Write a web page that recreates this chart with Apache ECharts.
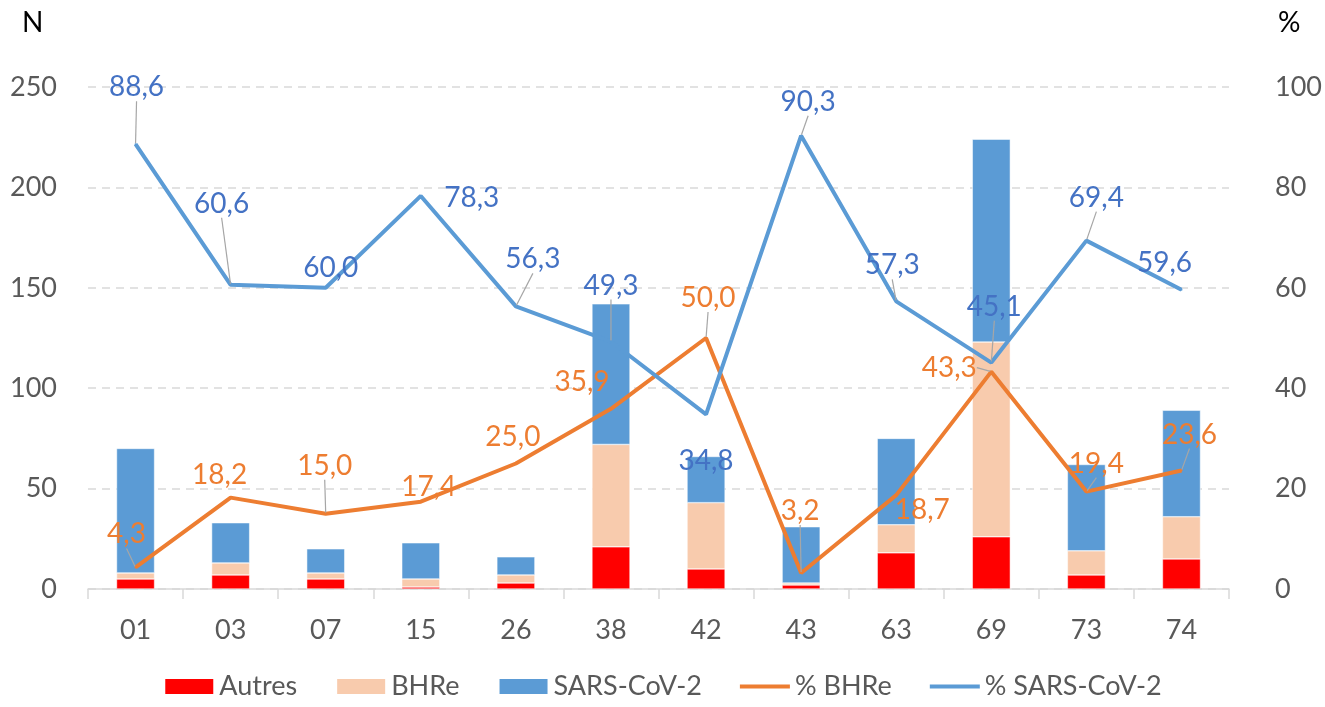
<!DOCTYPE html>
<html>
<head>
<meta charset="utf-8">
<script src="https://cdn.jsdelivr.net/npm/echarts@6/dist/echarts.min.js"></script>
<style>
  html, body { margin: 0; padding: 0; background: #fff; }
  #chart { width: 1325px; height: 707px; }
</style>
</head>
<body>
<div id="chart"></div>
<script>
const categories = ['01', '03', '07', '15', '26', '38', '42', '43', '63', '69', '73', '74'];
const autres = [5, 7, 5, 1, 3, 21, 10, 2, 18, 26, 7, 15];
const bhre = [3, 6, 3, 4, 4, 51, 33, 1, 14, 97, 12, 21];
const sars = [62, 20, 12, 18, 9, 70, 23, 28, 43, 101, 43, 53];
const pctBhre = [4.3, 18.2, 15.0, 17.4, 25.0, 35.9, 50.0, 3.2, 18.7, 43.3, 19.4, 23.6];
const pctSars = [88.6, 60.6, 60.0, 78.3, 56.3, 49.3, 34.8, 90.3, 57.3, 45.1, 69.4, 59.6];

// label offsets (px) from each point, like the Excel layout
const sarsLabelOffsets = [[1, -57], [-9, -81], [5, -20], [51, 2], [17, -47], [0, -56], [0, 47], [7, -34], [-4, -36], [3, -56], [10, -43], [-17, -27]];
const bhreLabelOffsets = [[-9, -33], [-11, -23], [-1, -48], [8, -15], [-3, -27], [-29, -27], [2, -40], [-1, -62], [26, 15], [-42, -4], [10, -28], [8, -36]];
// which labels get a leader line
const sarsLeaders = [true, true, false, false, true, true, false, true, true, true, true, false];
const bhreLeaders = [true, false, true, false, false, false, true, true, false, true, true, true];

const font = "Lato, 'Liberation Sans', sans-serif";
const lineIcon = 'path://M0,0H50V4H0Z';

const fmt = (p) => p.value.toFixed(1).replace('.', ',');
const withLeaders = (values, leaders) =>
  values.map((v, i) => ({ value: v, labelLine: { show: leaders[i] } }));

const getOption = () => {
  return {
    animation: false,
    textStyle: { fontFamily: font },
    grid: { left: 88, right: 93, top: 87, bottom: 118 },
    graphic: [
      { type: 'text', left: 22, top: 9, style: { text: 'N', font: '28px ' + font, fill: '#000' } },
      { type: 'text', left: 1278, top: 9, style: { text: '%', font: '28px ' + font, fill: '#000' } }
    ],
    legend: {
      bottom: 2,
      left: 'center',
      itemWidth: 50,
      itemHeight: 17,
      itemGap: 38,
      textStyle: { fontSize: 27, color: '#595959', fontFamily: font },
      data: [
        { name: 'Autres', icon: 'rect' },
        { name: 'BHRe', icon: 'rect' },
        { name: 'SARS-CoV-2', icon: 'rect' },
        { name: '% BHRe', icon: lineIcon },
        { name: '% SARS-CoV-2', icon: lineIcon }
      ]
    },
    xAxis: {
      type: 'category',
      data: categories,
      axisLine: { lineStyle: { color: '#d9d9d9', width: 1.5 } },
      axisTick: { show: true, length: 10, lineStyle: { color: '#d9d9d9', width: 1.5 } },
      axisLabel: { fontSize: 27, color: '#595959', margin: 28, fontFamily: font }
    },
    yAxis: [
      {
        type: 'value', min: 0, max: 250, interval: 50,
        axisLine: { show: false }, axisTick: { show: false },
        axisLabel: { fontSize: 27, color: '#595959', margin: 31, fontFamily: font },
        splitLine: { lineStyle: { color: '#d9d9d9', type: [8, 6], width: 1.5 } }
      },
      {
        type: 'value', min: 0, max: 100, interval: 20,
        axisLine: { show: false }, axisTick: { show: false },
        axisLabel: { fontSize: 27, color: '#595959', margin: 46, fontFamily: font },
        splitLine: { show: false }
      }
    ],
    series: [
      {
        name: 'Autres', type: 'bar', stack: 'n', barWidth: '40%',
        itemStyle: { color: '#ff0000', borderColor: '#ffffff', borderWidth: 0.5 },
        data: autres
      },
      {
        name: 'BHRe', type: 'bar', stack: 'n',
        itemStyle: { color: '#f8cbad', borderColor: '#ffffff', borderWidth: 0.5 },
        data: bhre
      },
      {
        name: 'SARS-CoV-2', type: 'bar', stack: 'n',
        itemStyle: { color: '#5b9bd5', borderColor: '#ffffff', borderWidth: 0.5 },
        data: sars
      },
      {
        name: '% BHRe', type: 'line', yAxisIndex: 1,
        symbol: 'circle', symbolSize: 2, showSymbol: true,
        lineStyle: { color: '#ed7d31', width: 4 },
        itemStyle: { color: '#ed7d31' },
        label: { show: true, position: 'inside', fontSize: 28, color: '#ed7d31', fontFamily: font, formatter: fmt },
        labelLine: { show: true, lineStyle: { color: '#a6a6a6', width: 1.2 } },
        labelLayout: (p) => ({ dx: bhreLabelOffsets[p.dataIndex][0], dy: bhreLabelOffsets[p.dataIndex][1] }),
        z: 3,
        data: withLeaders(pctBhre, bhreLeaders)
      },
      {
        name: '% SARS-CoV-2', type: 'line', yAxisIndex: 1,
        symbol: 'circle', symbolSize: 2, showSymbol: true,
        lineStyle: { color: '#5b9bd5', width: 4 },
        itemStyle: { color: '#5b9bd5' },
        label: { show: true, position: 'inside', fontSize: 28, color: '#4472c4', fontFamily: font, formatter: fmt },
        labelLine: { show: true, lineStyle: { color: '#a6a6a6', width: 1.2 } },
        labelLayout: (p) => ({ dx: sarsLabelOffsets[p.dataIndex][0], dy: sarsLabelOffsets[p.dataIndex][1] }),
        z: 4,
        data: withLeaders(pctSars, sarsLeaders)
      }
    ]
  };
};

const initCharts = () => {
  const chart = echarts.init(document.getElementById('chart'));
  chart.setOption(getOption());
};

window.addEventListener('load', () => {
  initCharts();
});
</script>
</body>
</html>
